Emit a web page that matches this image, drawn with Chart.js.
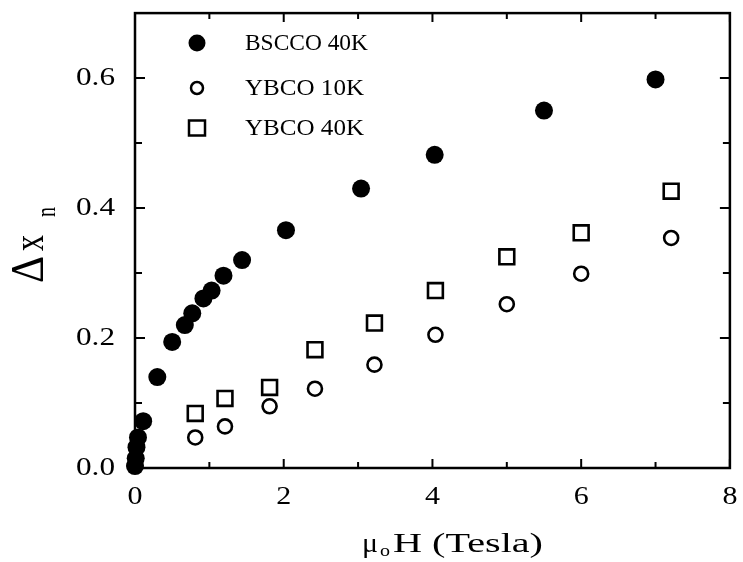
<!DOCTYPE html>
<html>
<head>
<meta charset="utf-8">
<script src="https://cdn.jsdelivr.net/npm/chart.js@4"></script>
<style>
  html, body { margin: 0; padding: 0; background: #fff; }
</style>
</head>
<body>
<canvas id="myChart" width="743" height="562"></canvas>
<script>
// field (Tesla) and Delta x_n
const bsccoField = [0.0, 0.01, 0.02, 0.04, 0.11, 0.30, 0.50, 0.67, 0.77, 0.92, 1.03, 1.19, 1.44, 2.03, 3.04, 4.03, 5.50, 7.00];
const bsccoValues = [0.003, 0.015, 0.032, 0.047, 0.072, 0.140, 0.194, 0.220, 0.238, 0.261, 0.273, 0.296, 0.320, 0.366, 0.430, 0.482, 0.550, 0.598];

const ybcoField = [0.81, 1.21, 1.81, 2.42, 3.22, 4.04, 5.00, 6.00, 7.21];
const ybco10Values = [0.047, 0.064, 0.095, 0.122, 0.159, 0.205, 0.252, 0.299, 0.354];
const ybco40Values = [0.084, 0.107, 0.124, 0.182, 0.223, 0.273, 0.325, 0.362, 0.426];

const seriesNames = ["BSCCO 40K", "YBCO 10K", "YBCO 40K"];

const xTickValues = [0, 1, 2, 3, 4, 5, 6, 7, 8];
const xTickLabels = ["0", "", "2", "", "4", "", "6", "", "8"];
const yTickValues = [0, 0.1, 0.2, 0.3, 0.4, 0.5, 0.6];
const yTickLabels = ["0.0", "", "0.2", "", "0.4", "", "0.6"];

const toPoints = (xs, ys) => xs.map((v, k) => ({ x: v, y: ys[k] }));

const serif = '"Liberation Serif", serif';

// draw text squeezed/stretched to a given width
const fitText = (ctx, text, size, x, y, width) => {
    ctx.save();
    ctx.font = size + "px " + serif;
    ctx.textAlign = "left";
    const w = ctx.measureText(text).width;
    ctx.translate(x, y);
    ctx.scale(width / w, 1);
    ctx.fillText(text, 0, 0);
    ctx.restore();
};

const framePlugin = {
    id: "frame",
    beforeDatasetsDraw(chart) {
        const { ctx, chartArea: a, scales } = chart;
        const xs = scales.x, ys = scales.y;
        ctx.save();
        ctx.strokeStyle = "#000";
        ctx.lineWidth = 2.5;
        ctx.strokeRect(a.left, a.top, a.right - a.left, a.bottom - a.top);
        ctx.lineWidth = 2;
        ctx.beginPath();
        xTickValues.forEach((v, k) => {
            const px = xs.getPixelForValue(v);
            const len = xTickLabels[k] ? 9 : 6;
            ctx.moveTo(px, a.bottom); ctx.lineTo(px, a.bottom - len);
            ctx.moveTo(px, a.top); ctx.lineTo(px, a.top + len);
        });
        yTickValues.forEach((v, k) => {
            const py = ys.getPixelForValue(v);
            const len = yTickLabels[k] ? 10 : 7;
            ctx.moveTo(a.left, py); ctx.lineTo(a.left + len, py);
            ctx.moveTo(a.right, py); ctx.lineTo(a.right - len, py);
        });
        ctx.stroke();

        // tick labels
        ctx.fillStyle = "#000";
        ctx.textBaseline = "middle";
        xTickValues.forEach((v, k) => {
            if (!xTickLabels[k]) return;
            const px = xs.getPixelForValue(v);
            fitText(ctx, xTickLabels[k], 26, px - 7.5, a.bottom + 29, 15);
        });
        yTickValues.forEach((v, k) => {
            if (!yTickLabels[k]) return;
            const py = ys.getPixelForValue(v);
            fitText(ctx, yTickLabels[k], 26, a.left - 59, py, 39);
        });

        // axis titles
        ctx.textBaseline = "alphabetic";
        fitText(ctx, "\u03bc", 28, 362, 552, 16);
        fitText(ctx, "o", 17, 380, 556, 10);
        fitText(ctx, "H (Tesla)", 27, 393, 552, 150);

        ctx.save();
        ctx.translate(43, 283);
        ctx.rotate(-Math.PI / 2);
        fitText(ctx, "\u0394", 46, 0, 0, 27);
        fitText(ctx, "x", 44, 32, 0, 16);
        fitText(ctx, "n", 28, 66, 12, 10);
        ctx.restore();

        // legend
        const rows = [43, 88, 128];
        ctx.lineWidth = 2.5;
        ctx.beginPath();
        ctx.arc(197, rows[0], 8.5, 0, Math.PI * 2);
        ctx.fill();
        ctx.beginPath();
        ctx.arc(197, rows[1], 6, 0, Math.PI * 2);
        ctx.stroke();
        ctx.strokeRect(189, rows[2] - 7.5, 16, 15);
        ctx.textBaseline = "middle";
        seriesNames.forEach((name, k) => {
            fitText(ctx, name, 24, 245, rows[k] + 1, [123, 119, 119][k]);
        });
        ctx.restore();
    }
};

const ctx = document.getElementById("myChart").getContext("2d");
const myChart = new Chart(ctx, {
    type: "scatter",
    data: {
        datasets: [
            {
                label: seriesNames[0],
                data: toPoints(bsccoField, bsccoValues),
                pointStyle: "circle",
                pointRadius: 9,
                backgroundColor: "#000",
                borderColor: "#000",
                borderWidth: 0,
                clip: false,
            },
            {
                label: seriesNames[1],
                data: toPoints(ybcoField, ybco10Values),
                pointStyle: "circle",
                pointRadius: 7,
                backgroundColor: "#fff",
                borderColor: "#000",
                borderWidth: 2.6,
                clip: false,
            },
            {
                label: seriesNames[2],
                data: toPoints(ybcoField, ybco40Values),
                pointStyle: "rect",
                pointRadius: 10.5,
                backgroundColor: "#fff",
                borderColor: "#000",
                borderWidth: 2.6,
                clip: false,
            },
        ],
    },
    options: {
        responsive: false,
        animation: false,
        events: [],
        layout: { padding: { top: 10, right: 2, left: 0, bottom: 0 } },
        plugins: { legend: { display: false }, tooltip: { enabled: false } },
        scales: {
            x: {
                type: "linear",
                min: 0,
                max: 8,
                grid: { display: false, drawTicks: false },
                border: { display: false },
                ticks: { display: false },
                afterFit: (s) => { s.height = 94; },
            },
            y: {
                type: "linear",
                min: 0,
                max: 0.7,
                grid: { display: false, drawTicks: false },
                border: { display: false },
                ticks: { display: false },
                afterFit: (s) => { s.width = 135; },
            },
        },
    },
    plugins: [framePlugin],
});
</script>
</body>
</html>
